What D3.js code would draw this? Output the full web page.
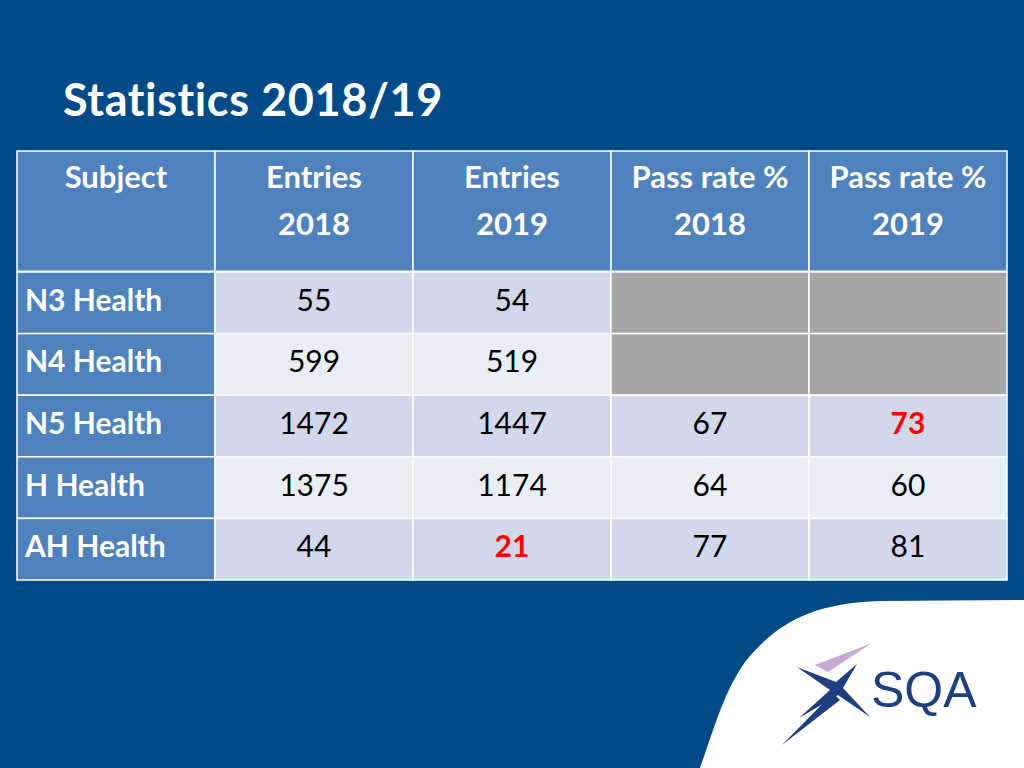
<!DOCTYPE html>
<html><head><meta charset="utf-8">
<script src="https://cdn.jsdelivr.net/npm/d3@7"></script>
<style>body{margin:0;background:#004a87;}svg{display:block;font-family:Lato,"Open Sans",sans-serif;}</style>
</head><body>
<script>
const title = "Statistics 2018/19";
const headers = [["Subject"],["Entries","2018"],["Entries","2019"],["Pass rate %","2018"],["Pass rate %","2019"]];
const subjects = ["N3 Health","N4 Health","N5 Health","H Health","AH Health"];
const entries2018 = [55,599,1472,1375,44];
const entries2019 = [54,519,1447,1174,21];
const pass2018 = [null,null,67,64,77];
const pass2019 = [null,null,73,60,81];
const highlights = [["N5 Health",4],["AH Health",2]];

const W=1024,H=768;
const svg=d3.select("body").append("svg").attr("width",W).attr("height",H);
svg.append("rect").attr("width",W).attr("height",H).attr("fill","#004a87");

svg.append("path").attr("fill","#fff")
 .attr("d","M700,768 C715,725 725,690 745,662 C775,625 810,603 880,601 L1024,600 L1024,768 Z");

svg.append("text").attr("x",63).attr("y",116).attr("fill","#fff")
 .attr("font-size",45).attr("font-weight","bold").attr("letter-spacing",0.6).text(title);

const x=d3.scaleBand().domain(d3.range(5)).range([17,1007]);
const rowY=d3.scaleBand().domain(d3.range(5)).range([272,580]);
const g=svg.append("g");
headers.forEach((h,i)=>{
  g.append("rect").attr("x",x(i)).attr("y",151).attr("width",x.bandwidth()).attr("height",121)
   .attr("fill","#4f81bd").attr("stroke","#fff").attr("stroke-width",1.5);
  h.forEach((t,j)=>g.append("text").attr("x",x(i)+x.bandwidth()/2).attr("y",188+j*47)
    .attr("text-anchor","middle").attr("fill","#fff").attr("font-size",31).attr("font-weight","bold").text(t));
});
g.append("line").attr("x1",17).attr("x2",1007).attr("y1",272).attr("y2",272).attr("stroke","#fff").attr("stroke-width",3);
const cols=[subjects,entries2018,entries2019,pass2018,pass2019];
subjects.forEach((s,r)=>{
  cols.forEach((c,i)=>{
    const v=c[r];
    let fill = i===0?"#4f81bd":(v===null?"#a6a6a6":(r%2===0?"#d0d8e9":"#e9edf4"));
    g.append("rect").attr("x",x(i)).attr("y",rowY(r)).attr("width",x.bandwidth()).attr("height",rowY.bandwidth())
     .attr("fill",fill).attr("stroke","#fff").attr("stroke-width",1.5);
    if(v===null) return;
    const hl=highlights.some(h=>h[0]===s&&h[1]===i);
    g.append("text").attr("x",i===0?x(i)+8:x(i)+x.bandwidth()/2).attr("y",rowY(r)+rowY.bandwidth()/2+8)
     .attr("text-anchor",i===0?"start":"middle").attr("font-size",30)
     .attr("font-weight",(i===0||hl)?"bold":"normal")
     .attr("fill",i===0?"#fff":(hl?"#ff0000":"#000")).text(v);
  });
});

const L=svg.append("g");
L.append("path").attr("fill","#c9a9d6").attr("d","M815,665 L872,643 L828,672 Z");
L.append("path").attr("fill","#1d3f7e").attr("d","M797,667 L830,690 L799,718 L838,695 L870,717 L843,688 L857,664 L836,682 Z");
L.append("path").attr("fill","#1d3f7e").attr("d","M833,693 L782,745 L840,700 Z");
L.append("text").attr("x",871).attr("y",707).attr("fill","#1d3f7e").attr("font-size",50)
 .attr("font-family","'Liberation Sans',sans-serif").text("SQA");
</script>
</body></html>
